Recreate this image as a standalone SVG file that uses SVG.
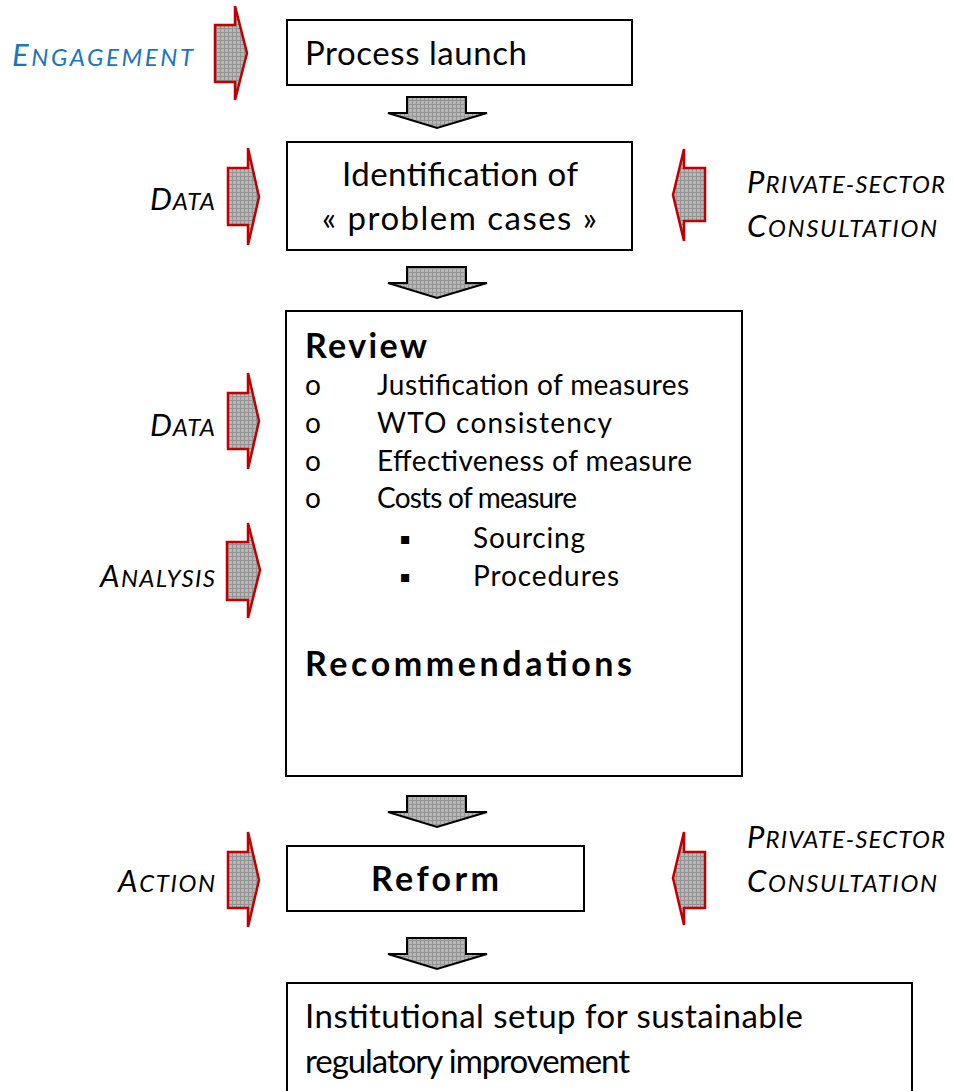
<svg xmlns="http://www.w3.org/2000/svg" width="953" height="1091" viewBox="0 0 953 1091">
<defs>
<pattern id="hatch" width="4" height="4" patternUnits="userSpaceOnUse">
<rect width="4" height="4" fill="#b8b8b8"/>
<path d="M0 0.5H4M0.5 0V4" stroke="#949494" stroke-width="1"/>
</pattern>
<style>
.box{fill:#fff;stroke:#000;stroke-width:2}
.side{fill:url(#hatch);stroke:#c00000;stroke-width:2.5;stroke-linejoin:miter}
.down{fill:url(#hatch);stroke:#000;stroke-width:2}
.t{font-family:Lato,"Liberation Sans",sans-serif;fill:#000}
.lbl{font-family:Lato,"Liberation Sans",sans-serif;font-style:italic;font-size:31px;fill:#000}
.sc{font-size:24px}
.b{font-weight:bold}
</style>
</defs>
<g id="connectors">
<polygon class="down" points="407,97 466,97 466,113 487,113 437,128 388,113 407,113"/>
<polygon class="down" points="407,267 466,267 466,283 487,283 437,298 388,283 407,283"/>
<polygon class="down" points="407,796 466,796 466,812 487,812 437,827 388,812 407,812"/>
<polygon class="down" points="407,938 466,938 466,954 487,954 437,969 388,954 407,954"/>
<polygon class="side" points="215,25 235,25 235,6 247,53 235,100 235,82 215,82"/>
<polygon class="side" points="228,168 248,168 248,148 259,197 248,245 248,225 228,225"/>
<polygon class="side" points="228,393 248,393 248,373 259,421 248,469 248,449 228,449"/>
<polygon class="side" points="227,542 248,542 248,523 260,570 248,618 248,600 227,600"/>
<polygon class="side" points="228,852 248,852 248,832 259,880 248,927 248,908 228,908"/>
<polygon class="side" points="705,168 684,168 684,149 673,195 684,241 684,221 705,221"/>
<polygon class="side" points="705,852 684,852 684,832 673,878 684,925 684,908 705,908"/>
</g>
<g id="lbl-engagement"><text class="lbl" x="12" y="66" style="fill:#1a75bc" textLength="181" lengthAdjust="spacing">E<tspan class="sc">NGAGEMENT</tspan></text></g>
<g id="lbl-data1"><text class="lbl" x="150" y="210" textLength="65" lengthAdjust="spacing">D<tspan class="sc">ATA</tspan></text></g>
<g id="lbl-private1"><text class="lbl" x="747" y="193" textLength="198" lengthAdjust="spacing">P<tspan class="sc">RIVATE-SECTOR</tspan></text><text class="lbl" x="747" y="237" textLength="190" lengthAdjust="spacing">C<tspan class="sc">ONSULTATION</tspan></text></g>
<g id="lbl-data2"><text class="lbl" x="150" y="436" textLength="65" lengthAdjust="spacing">D<tspan class="sc">ATA</tspan></text></g>
<g id="lbl-analysis"><text class="lbl" x="100" y="587" textLength="115" lengthAdjust="spacing">A<tspan class="sc">NALYSIS</tspan></text></g>
<g id="lbl-action"><text class="lbl" x="118" y="892" textLength="97" lengthAdjust="spacing">A<tspan class="sc">CTION</tspan></text></g>
<g id="lbl-private2"><text class="lbl" x="747" y="848" textLength="198" lengthAdjust="spacing">P<tspan class="sc">RIVATE-SECTOR</tspan></text><text class="lbl" x="747" y="892" textLength="190" lengthAdjust="spacing">C<tspan class="sc">ONSULTATION</tspan></text></g>
<g id="node-launch"><rect class="box" x="287" y="20" width="345" height="65"/><text class="t" x="305" y="65" font-size="33" textLength="222" lengthAdjust="spacing">Process launch</text></g>
<g id="node-identification"><rect class="box" x="287" y="142" width="345" height="108"/><text class="t" x="342" y="186" font-size="33" textLength="236" lengthAdjust="spacing">Identification of</text><text class="t" x="322" y="230" font-size="33" textLength="275" lengthAdjust="spacing">« problem cases »</text></g>
<g id="node-review"><rect class="box" x="286" y="311" width="456" height="465"/>
<text class="t b" x="305" y="358" font-size="34" textLength="122" lengthAdjust="spacing">Review</text>
<g class="t" font-size="28">
<text x="305" y="395">o</text><text x="377" y="395" textLength="312" lengthAdjust="spacing">Justification of measures</text>
<text x="305" y="433">o</text><text x="377" y="433" textLength="235" lengthAdjust="spacing">WTO consistency</text>
<text x="305" y="471">o</text><text x="377" y="471" textLength="315" lengthAdjust="spacing">Effectiveness of measure</text>
<text x="305" y="508">o</text><text x="377" y="508" textLength="200" lengthAdjust="spacing">Costs of measure</text>
<text x="399" y="550" font-size="30">▪</text><text x="473" y="548" textLength="112" lengthAdjust="spacing">Sourcing</text>
<text x="399" y="588" font-size="30">▪</text><text x="473" y="586" textLength="146" lengthAdjust="spacing">Procedures</text>
</g>
<text class="t b" x="305" y="676" font-size="34" textLength="327" lengthAdjust="spacing">Recommendations</text>
</g>
<g id="node-reform"><rect class="box" x="287" y="846" width="297" height="65"/><text class="t b" x="371" y="891" font-size="34" textLength="128" lengthAdjust="spacing">Reform</text></g>
<g id="node-institutional"><rect class="box" x="287" y="983" width="625" height="120"/><text class="t" x="305" y="1028" font-size="33" textLength="498" lengthAdjust="spacing">Institutional setup for sustainable</text><text class="t" x="305" y="1073" font-size="33" textLength="325" lengthAdjust="spacing">regulatory improvement</text></g>
</svg>
